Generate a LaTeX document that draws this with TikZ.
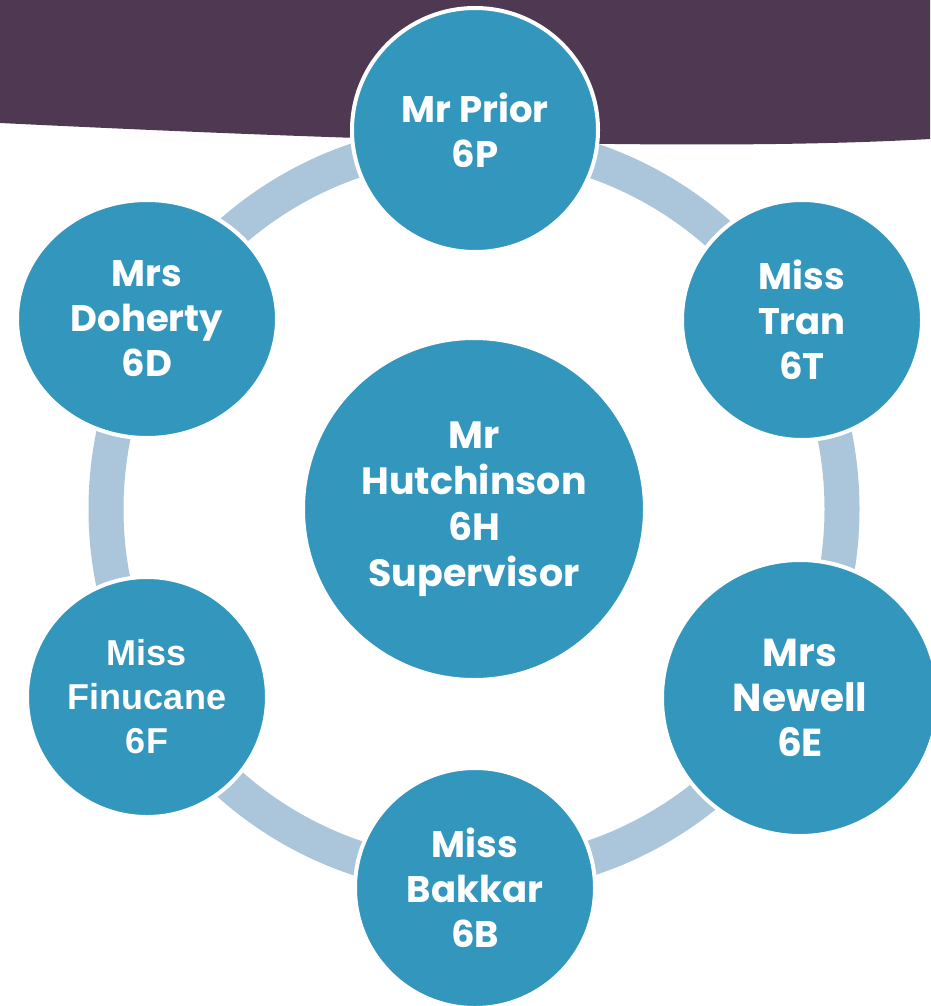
\documentclass[tikz,border=0pt]{standalone}
\usepackage{fontspec}
\setmainfont{Poppins}
\newfontfamily\arialfont{Liberation Sans}
\usetikzlibrary{shapes.geometric}
\definecolor{bandpurple}{RGB}{78,56,82}
\definecolor{discteal}{RGB}{51,150,188}
\definecolor{ringblue}{RGB}{171,198,218}
\tikzset{
	disc/.style={ellipse,fill=discteal,draw=white,line width=4pt,text=white,
		align=center,inner sep=0pt,font=\bfseries\fontsize{37}{45}\selectfont},
	ringline/.style={draw=ringblue,line width=35pt}
}
\begin{document}
\begin{tikzpicture}[x=1pt,y=-1pt]
	\useasboundingbox (0,0) rectangle (930,1006);
	\fill[white] (0,0) rectangle (930,1006);
	\fill[bandpurple] (0,0) -- (930,0) -- (930,139) .. controls (700,152) and (350,140) .. (0,123) -- cycle;
	\coordinate (hubc) at (474,509);
	\draw[ringline] (hubc) circle[radius=368];
	\node[disc,minimum size=342pt,font=\bfseries\fontsize{38}{46}\selectfont] (hub) at (hubc) {Mr\\Hutchinson\\6H\\Supervisor};
	\node[disc,minimum width=246pt,minimum height=244pt] (prior) at (475,130) {Mr Prior\\6P};
	\node[disc,minimum size=240pt] (tran) at (802,320) {Miss\\Tran\\6T};
	\node[disc,minimum size=276pt,font=\bfseries\fontsize{39}{45}\selectfont] (newell) at (800,698) {Mrs\\Newell\\6E};
	\node[disc,minimum size=240pt] (bakkar) at (475,888) {Miss\\Bakkar\\6B};
	\node[disc,minimum size=240pt,font=\arialfont\bfseries\fontsize{36}{44}\selectfont] (finucane) at (147,697) {Miss\\Finucane\\6F};
	\node[disc,minimum width=260pt,minimum height=238pt] (doherty) at (147,319) {Mrs\\Doherty\\6D};
\end{tikzpicture}
\end{document}
